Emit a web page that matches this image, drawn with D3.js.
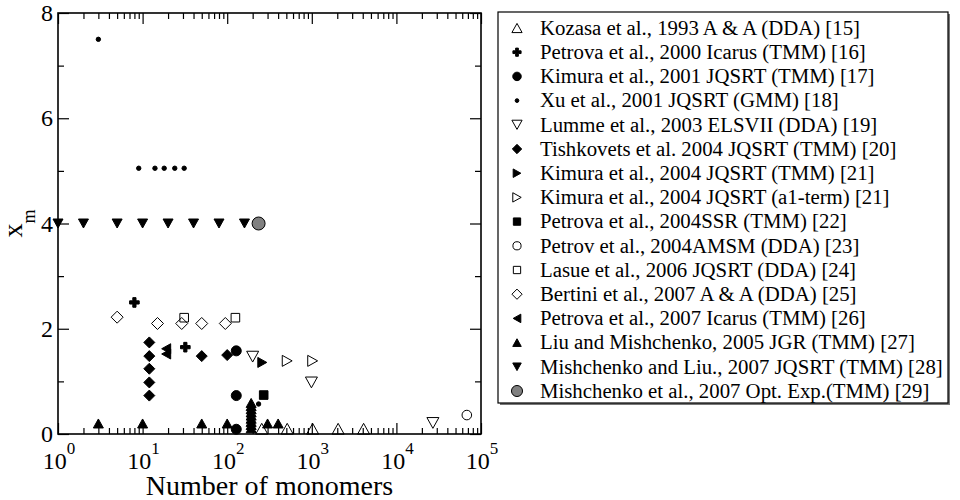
<!DOCTYPE html>
<html>
<head>
<meta charset="utf-8">
<script src="https://cdn.jsdelivr.net/npm/d3@7"></script>
<style>
  body { margin: 0; background: #fff; }
  text { font-family: 'Liberation Serif', 'Times New Roman', serif; fill: #000; }
</style>
</head>
<body>
<svg id="chart" width="960" height="500"></svg>
<script>
// number of monomers vs x_m, one array per reference
const kozasa1993 = [[256, 0.1], [512, 0.1], [1024, 0.1], [2048, 0.1], [4096, 0.1]];
const petrova2000 = [[8, 2.5], [32, 1.65]];
const kimura2001 = [[128, 1.58], [128, 0.73], [128, 0.09]];
const xu2001 = [[3, 7.5], [9, 5.05], [14, 5.05], [18, 5.05], [24, 5.05], [31, 5.05], [235, 0.57]];
const lumme2003 = [[200, 1.47], [990, 0.98], [27000, 0.21]];
const tishkovets2004 = [[12, 1.74], [12, 1.48], [12, 1.24], [12, 0.98], [12, 0.73], [50, 1.48], [100, 1.5]];
const kimura2004 = [[260, 1.36]];
const kimura2004a1 = [[512, 1.39], [1024, 1.39]];
const petrova2004 = [[270, 0.74]];
const petrov2004 = [[68000, 0.36]];
const lasue2006 = [[31, 2.21], [125, 2.21]];
const bertini2007 = [[5, 2.22], [15, 2.1], [29, 2.1], [50, 2.1], [95, 2.1]];
const petrova2007 = [[19, 1.62], [19, 1.52]];
const liu2005 = [[3, 0.2], [10, 0.2], [50, 0.2], [100, 0.2], [300, 0.2], [400, 0.2],
  [192, 0.59], [192, 0.53], [192, 0.47], [192, 0.41], [192, 0.35],
  [192, 0.29], [192, 0.23], [192, 0.17], [192, 0.11]];
const mishchenkoLiu2007 = [[1, 4], [2, 4], [5, 4], [10, 4], [20, 4], [40, 4], [80, 4], [160, 4]];
const mishchenko2007 = [[235, 4]];

const labels = [
  'Kozasa et al., 1993 A & A (DDA) [15]',
  'Petrova et al., 2000 Icarus (TMM) [16]',
  'Kimura et al., 2001 JQSRT (TMM) [17]',
  'Xu et al., 2001 JQSRT (GMM) [18]',
  'Lumme et al., 2003 ELSVII (DDA) [19]',
  'Tishkovets et al. 2004 JQSRT (TMM) [20]',
  'Kimura et al., 2004 JQSRT (TMM) [21]',
  'Kimura et al., 2004 JQSRT (a1-term) [21]',
  'Petrova et al., 2004SSR (TMM) [22]',
  'Petrov et al., 2004AMSM (DDA) [23]',
  'Lasue et al., 2006 JQSRT (DDA) [24]',
  'Bertini et al., 2007 A & A (DDA) [25]',
  'Petrova et al., 2007 Icarus (TMM) [26]',
  'Liu and Mishchenko, 2005 JGR (TMM) [27]',
  'Mishchenko and Liu., 2007 JQSRT (TMM) [28]',
  'Mishchenko et al., 2007 Opt. Exp.(TMM) [29]',
];
const xTicks = [1, 10, 100, 1000, 10000, 100000];
const xExponents = ['0', '1', '2', '3', '4', '5'];
const yTicks = [0, 2, 4, 6, 8];
const yMinorTicks = [1, 3, 5, 7];

// marker style per series, same order as the labels
const styles = [
  { shape: 'triUp', s: 6, fill: 'none' },
  { shape: 'plus', s: 4.8, fill: '#000' },
  { shape: 'circle', s: 5, fill: '#000' },
  { shape: 'circle', s: 2.2, fill: '#000' },
  { shape: 'triDown', s: 6, fill: 'none' },
  { shape: 'diamond', s: 5.5, fill: '#000' },
  { shape: 'triRight', s: 5, fill: '#000' },
  { shape: 'triRight', s: 5.5, fill: 'none' },
  { shape: 'square', s: 4.3, fill: '#000' },
  { shape: 'circle', s: 4.8, fill: 'none' },
  { shape: 'square', s: 4.3, fill: 'none' },
  { shape: 'diamond', s: 6, fill: 'none' },
  { shape: 'triLeft', s: 5, fill: '#000' },
  { shape: 'triUp', s: 5, fill: '#000' },
  { shape: 'triDown', s: 5, fill: '#000' },
  { shape: 'circle', s: 6.5, fill: '#808080' },
];
const seriesData = [
  kozasa1993, petrova2000, kimura2001, xu2001, lumme2003, tishkovets2004,
  kimura2004, kimura2004a1, petrova2004, petrov2004, lasue2006, bertini2007,
  petrova2007, liu2005, mishchenkoLiu2007, mishchenko2007,
];
const series = labels.map((label, i) => ({ label, ...styles[i], values: seriesData[i] }));

function markerPath(shape, s) {
  const p = d3.path();
  const h = s * 0.9;
  if (shape === 'circle') {
    p.arc(0, 0, s, 0, 2 * Math.PI);
  } else if (shape === 'square') {
    p.rect(-s, -s, 2 * s, 2 * s);
  } else if (shape === 'diamond') {
    p.moveTo(0, -s); p.lineTo(s, 0); p.lineTo(0, s); p.lineTo(-s, 0); p.closePath();
  } else if (shape === 'plus') {
    const a = s / 3;
    p.moveTo(-a, -s); p.lineTo(a, -s); p.lineTo(a, -a); p.lineTo(s, -a);
    p.lineTo(s, a); p.lineTo(a, a); p.lineTo(a, s); p.lineTo(-a, s);
    p.lineTo(-a, a); p.lineTo(-s, a); p.lineTo(-s, -a); p.lineTo(-a, -a); p.closePath();
  } else if (shape === 'triUp') {
    p.moveTo(0, -h); p.lineTo(s, h); p.lineTo(-s, h); p.closePath();
  } else if (shape === 'triDown') {
    p.moveTo(0, h); p.lineTo(s, -h); p.lineTo(-s, -h); p.closePath();
  } else if (shape === 'triRight') {
    p.moveTo(h, 0); p.lineTo(-h, -s); p.lineTo(-h, s); p.closePath();
  } else if (shape === 'triLeft') {
    p.moveTo(-h, 0); p.lineTo(h, -s); p.lineTo(h, s); p.closePath();
  }
  return p.toString();
}

const svg = d3.select('#chart');
const plotLeft = 58;
const plotRight = 481;
const plotTop = 13;
const plotBottom = 434;

const x = d3.scaleLog().domain([1, 1e5]).range([plotLeft, plotRight]);
const y = d3.scaleLinear().domain([0, 8]).range([plotBottom, plotTop]);

const xMinor = [];
for (let d = 0; d < 5; d += 1) {
  for (let k = 2; k <= 9; k += 1) xMinor.push(k * 10 ** d);
}

function tickAxis(axis, values, size) {
  return axis.tickValues(values).tickSizeInner(-size).tickSizeOuter(0).tickFormat('');
}

const axes = [
  [d3.axisBottom, x, xTicks, xMinor, `translate(0,${plotBottom})`],
  [d3.axisTop, x, xTicks, xMinor, `translate(0,${plotTop})`],
  [d3.axisLeft, y, yTicks, yMinorTicks, `translate(${plotLeft},0)`],
  [d3.axisRight, y, yTicks, yMinorTicks, `translate(${plotRight},0)`],
];
axes.forEach(([axisFn, scale, major, minor, transform]) => {
  const gMajor = svg.append('g').attr('transform', transform).call(tickAxis(axisFn(scale), major, 11));
  const gMinor = svg.append('g').attr('transform', transform).call(tickAxis(axisFn(scale), minor, 6));
  [gMajor, gMinor].forEach((g) => {
    g.select('.domain').remove();
    g.selectAll('line').attr('stroke', '#000').attr('stroke-width', 1.2);
  });
});

svg.append('rect')
  .attr('x', plotLeft)
  .attr('y', plotTop)
  .attr('width', plotRight - plotLeft)
  .attr('height', plotBottom - plotTop)
  .attr('fill', 'none')
  .attr('stroke', '#000')
  .attr('stroke-width', 1.6);

// tick labels
svg.append('g')
  .selectAll('text')
  .data(yTicks)
  .join('text')
  .attr('x', plotLeft - 5)
  .attr('y', (d) => y(d))
  .attr('dy', '0.34em')
  .attr('text-anchor', 'end')
  .attr('font-size', 24)
  .text((d) => d);

const xLab = svg.append('g')
  .selectAll('text')
  .data(xTicks)
  .join('text')
  .attr('x', (d) => x(d) + 1)
  .attr('y', plotBottom + 35)
  .attr('text-anchor', 'middle')
  .attr('font-size', 24);
xLab.append('tspan').text('10');
xLab.append('tspan')
  .attr('font-size', 17)
  .attr('dy', -15)
  .text((d, i) => xExponents[i]);

svg.append('text')
  .attr('x', (plotLeft + plotRight) / 2)
  .attr('y', 495)
  .attr('text-anchor', 'middle')
  .attr('font-size', 28)
  .text('Number of monomers');

const yTitle = svg.append('text')
  .attr('transform', `translate(22,${(plotTop + plotBottom) / 2}) rotate(-90)`)
  .attr('text-anchor', 'middle')
  .attr('font-size', 28);
yTitle.append('tspan').text('x');
yTitle.append('tspan').attr('font-size', 18).attr('dy', 13).text('m');

// markers
svg.append('g')
  .selectAll('g')
  .data(series)
  .join('g')
  .each(function drawSeries(sr) {
    d3.select(this)
      .selectAll('path')
      .data(sr.values)
      .join('path')
      .attr('d', markerPath(sr.shape, sr.s))
      .attr('transform', (d) => `translate(${x(d[0])},${y(d[1])})`)
      .attr('fill', sr.fill)
      .attr('stroke', '#000')
      .attr('stroke-width', 1);
  });

// legend
const legend = svg.append('g');
legend.append('rect')
  .attr('x', 500)
  .attr('y', 14)
  .attr('width', 450)
  .attr('height', 391)
  .attr('fill', '#777');
legend.append('rect')
  .attr('x', 498)
  .attr('y', 12)
  .attr('width', 450)
  .attr('height', 391)
  .attr('fill', '#fff')
  .attr('stroke', '#000')
  .attr('stroke-width', 1.2);

const rows = legend.selectAll('g.row')
  .data(series)
  .join('g')
  .attr('class', 'row')
  .attr('transform', (d, i) => `translate(0,${28 + i * 24.2})`);
rows.append('path')
  .attr('d', (d) => markerPath(d.shape, d.s * 0.85))
  .attr('transform', 'translate(517,0)')
  .attr('fill', (d) => d.fill)
  .attr('stroke', '#000')
  .attr('stroke-width', 1);
rows.append('text')
  .attr('x', 540)
  .attr('dy', '0.33em')
  .attr('font-size', 20.8)
  .text((d) => d.label);
</script>
</body>
</html>
